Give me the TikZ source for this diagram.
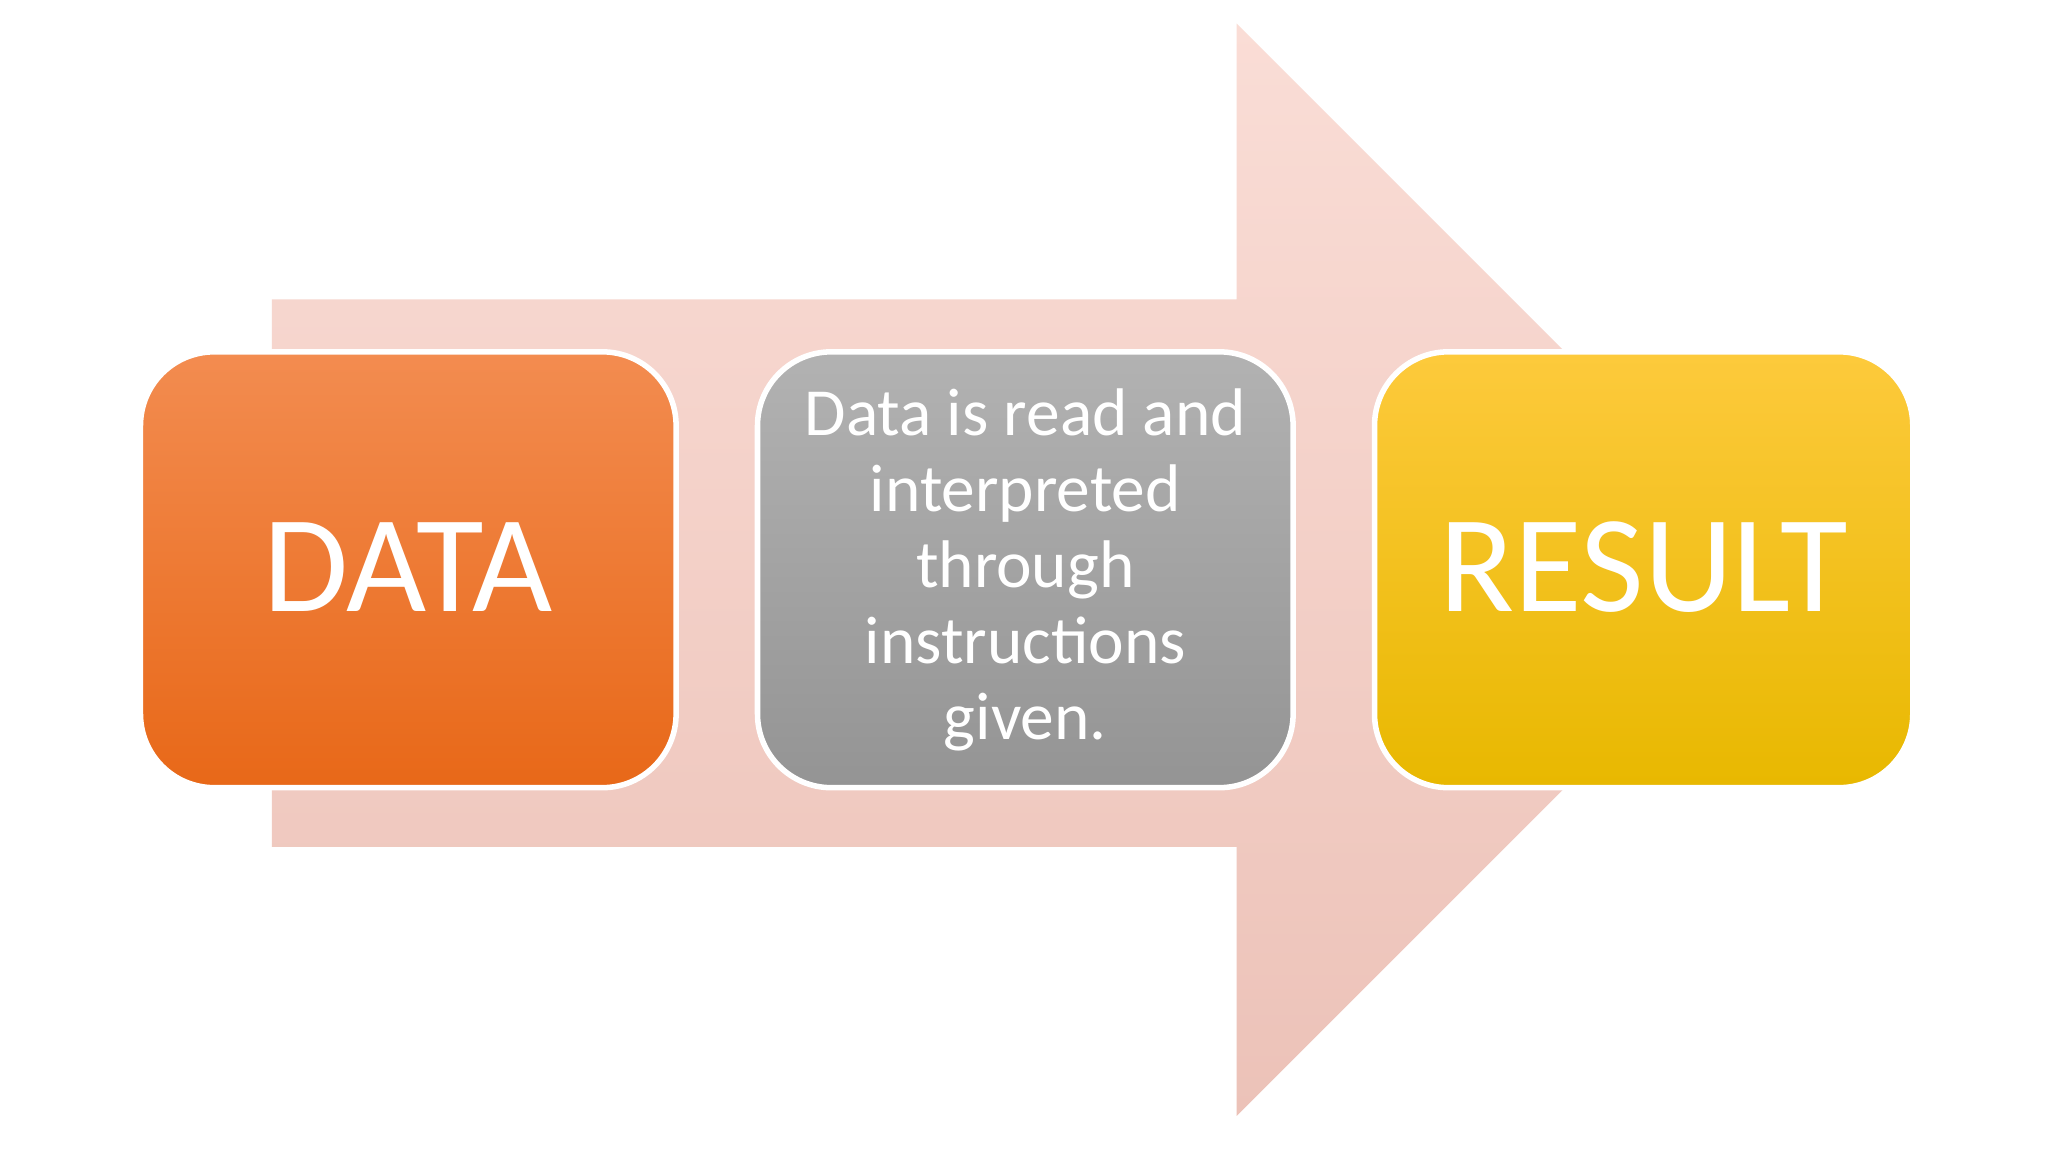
\documentclass[tikz,border=0pt]{standalone}
\usepackage{fontspec}
\setmainfont{Carlito}
\usetikzlibrary{shadings}
\definecolor{arrT}{HTML}{FADDD6}
\definecolor{arrB}{HTML}{ECC2B8}
\tikzset{
  boxstyle/.style={rounded corners=16pt, draw=white, line width=1.2pt},
  boxtext/.style={text=white, align=center}
}
\begin{document}
\begin{tikzpicture}[x=0.1mm,y=-0.1mm]
\useasboundingbox (0,0) rectangle (1560,877.5);
\fill[white] (0,0) rectangle (1560,877.5);
\shade[top color=arrT, bottom color=arrB]
  (207,228) -- (942,228) -- (942,18) -- (1358,434) -- (942,850) -- (942,645) -- (207,645) -- cycle;
\shade[boxstyle, top color=orange!70!red!60!white, bottom color=orange!80!red, top color={rgb,255:red,243;green,140;blue,80}, bottom color={rgb,255:red,232;green,104;blue,24}]
  (107,268) rectangle (515,600);
\shade[boxstyle, top color={rgb,255:red,178;green,178;blue,178}, bottom color={rgb,255:red,148;green,148;blue,148}]
  (577,268) rectangle (985,600);
\shade[boxstyle, top color={rgb,255:red,253;green,202;blue,60}, bottom color={rgb,255:red,232;green,184;blue,0}]
  (1047,268) rectangle (1457,600);
\node[boxtext, font=\fontsize{30}{34}\selectfont] (data) at (311,432) {DATA};
\node[boxtext, font=\fontsize{14.6}{16.5}\selectfont] (proc) at (781,434) {Data is read and\\interpreted\\through\\instructions\\given.};
\node[boxtext, font=\fontsize{30}{34}\selectfont] (res) at (1252,432) {RESULT};
\end{tikzpicture}
\end{document}
